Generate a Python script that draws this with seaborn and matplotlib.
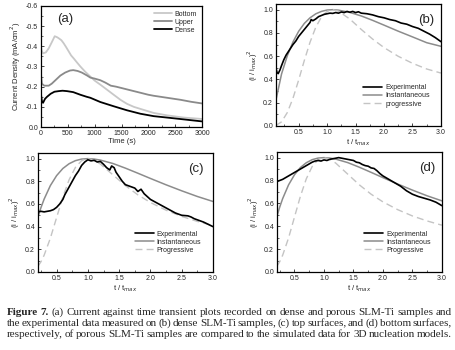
import matplotlib
matplotlib.use("Agg")
import matplotlib.pyplot as plt
import seaborn as sns
from matplotlib.ticker import AutoMinorLocator, MultipleLocator

sns.set_style("ticks")
plt.rcParams['font.family'] = ['Liberation Sans', 'DejaVu Sans']
plt.rcParams['xtick.direction'] = 'in'
plt.rcParams['ytick.direction'] = 'in'

# ---- (a) current density vs time ----
bottom_t = [0, 10, 37, 90, 143, 200, 255, 300, 329, 380, 422, 470, 515, 560, 609, 670, 733, 820,
            919, 1000, 1105, 1230, 1354, 1480, 1602, 1730, 1851, 2099, 2348, 2658, 3000]
bottom_j = [-0.40, -0.38, -0.365, -0.37, -0.39, -0.42, -0.45, -0.445, -0.44, -0.43, -0.415, -0.395,
            -0.375, -0.355, -0.34, -0.32, -0.30, -0.275, -0.25, -0.23, -0.21, -0.185, -0.16, -0.135,
            -0.115, -0.10, -0.09, -0.07, -0.058, -0.047, -0.04]
upper_t = [0, 15, 60, 143, 200, 280, 360, 450, 540, 600, 680, 760, 860, 919, 1000, 1105, 1200, 1300,
           1400, 1550, 1700, 1851, 2000, 2100, 2350, 2600, 2800, 3000]
upper_j = [-0.26, -0.215, -0.205, -0.205, -0.215, -0.235, -0.255, -0.27, -0.28, -0.282, -0.278, -0.27,
           -0.255, -0.245, -0.24, -0.232, -0.22, -0.205, -0.2, -0.19, -0.18, -0.17, -0.16, -0.155,
           -0.145, -0.135, -0.125, -0.117]
dense_t = [0, 15, 37, 75, 112, 180, 250, 329, 400, 484, 600, 733, 850, 919, 1105, 1354, 1602, 1851,
           2099, 2348, 2658, 3000]
dense_j = [-0.16, -0.13, -0.12, -0.14, -0.15, -0.165, -0.175, -0.178, -0.18, -0.178, -0.173, -0.16,
           -0.15, -0.145, -0.124, -0.103, -0.083, -0.066, -0.054, -0.047, -0.038, -0.028]

# ---- (b) dense SLM-Ti ----
b_model_x = [0.1, 0.2, 0.3, 0.4, 0.5, 0.6, 0.7, 0.8, 0.9, 1.0, 1.1, 1.2, 1.4, 1.6, 1.8, 2.0, 2.25,
             2.5, 2.75, 3.0]
b_inst = [0.22, 0.448, 0.603, 0.722, 0.814, 0.882, 0.930, 0.964, 0.985, 0.997, 1.0, 0.996, 0.976,
          0.946, 0.908, 0.867, 0.815, 0.766, 0.716, 0.685]
b_prog = [0.004, 0.036, 0.115, 0.238, 0.395, 0.564, 0.720, 0.848, 0.937, 0.985, 1.0, 0.987, 0.919,
          0.830, 0.747, 0.674, 0.599, 0.539, 0.490, 0.455]
b_exp_x = [0.1, 0.12, 0.14, 0.17, 0.2, 0.24, 0.28, 0.32, 0.36, 0.4, 0.45, 0.5, 0.55, 0.6, 0.65, 0.7,
           0.72, 0.75, 0.8, 0.85, 0.9, 0.95, 1.0, 1.05, 1.1, 1.15, 1.2, 1.25, 1.3, 1.35, 1.4, 1.45,
           1.5, 1.55, 1.6, 1.7, 1.8, 1.9, 2.0, 2.1, 2.2, 2.3, 2.4, 2.5, 2.6, 2.7, 2.8, 2.9, 3.0]
b_exp = [0.50, 0.46, 0.45, 0.48, 0.52, 0.57, 0.61, 0.64, 0.67, 0.70, 0.73, 0.77, 0.80, 0.83, 0.86,
         0.89, 0.915, 0.905, 0.92, 0.94, 0.95, 0.96, 0.965, 0.97, 0.968, 0.975, 0.97, 0.98, 0.975,
         0.985, 0.978, 0.985, 0.975, 0.982, 0.97, 0.965, 0.955, 0.94, 0.93, 0.915, 0.905, 0.885,
         0.875, 0.855, 0.84, 0.815, 0.79, 0.76, 0.725]

# ---- (c) top surfaces, (d) bottom surfaces ----
model_x = [0.2, 0.25, 0.3, 0.4, 0.5, 0.6, 0.7, 0.8, 0.9, 1.0, 1.1, 1.2, 1.4, 1.6, 1.8, 2.0, 2.25,
           2.5, 2.75, 3.0]
inst = [0.482, 0.568, 0.642, 0.762, 0.850, 0.913, 0.955, 0.982, 0.996, 1.0, 0.996, 0.987, 0.957,
        0.916, 0.871, 0.825, 0.769, 0.716, 0.666, 0.622]
prog = [0.049, 0.090, 0.147, 0.298, 0.480, 0.661, 0.814, 0.922, 0.982, 1.0, 0.986, 0.952, 0.857,
        0.762, 0.680, 0.613, 0.545, 0.490, 0.446, 0.409]
c_exp_x = [0.2, 0.25, 0.3, 0.35, 0.4, 0.45, 0.5, 0.55, 0.6, 0.63, 0.67, 0.7, 0.75, 0.8, 0.85, 0.9,
           0.95, 1.0, 1.05, 1.1, 1.15, 1.2, 1.25, 1.3, 1.35, 1.38, 1.42, 1.45, 1.5, 1.55, 1.6, 1.65,
           1.7, 1.75, 1.8, 1.85, 1.9, 2.0, 2.1, 2.2, 2.3, 2.4, 2.5, 2.6, 2.65, 2.7, 2.75, 2.85, 3.0]
c_exp = [0.53, 0.535, 0.53, 0.535, 0.54, 0.55, 0.57, 0.60, 0.64, 0.68, 0.72, 0.75, 0.80, 0.85, 0.89,
         0.94, 0.97, 0.99, 0.98, 0.985, 0.97, 0.975, 0.95, 0.92, 0.90, 0.935, 0.92, 0.88, 0.84,
         0.80, 0.77, 0.76, 0.75, 0.74, 0.71, 0.73, 0.69, 0.64, 0.61, 0.58, 0.55, 0.52, 0.50, 0.495,
         0.485, 0.47, 0.46, 0.44, 0.40]
d_exp_x = [0.2, 0.3, 0.4, 0.5, 0.6, 0.7, 0.8, 0.85, 0.9, 0.95, 1.0, 1.05, 1.1, 1.15, 1.2, 1.25, 1.3,
           1.35, 1.4, 1.45, 1.5, 1.55, 1.6, 1.65, 1.7, 1.75, 1.8, 1.85, 1.9, 1.95, 2.0, 2.1, 2.2, 2.3,
           2.4, 2.5, 2.6, 2.7, 2.8, 2.9, 3.0]
d_exp = [0.79, 0.81, 0.84, 0.87, 0.90, 0.93, 0.96, 0.97, 0.975, 0.97, 0.98, 0.975, 0.985, 0.99,
         0.995, 1.0, 0.995, 0.99, 0.985, 0.98, 0.975, 0.96, 0.955, 0.94, 0.93, 0.925, 0.91, 0.905,
         0.885, 0.86, 0.84, 0.81, 0.78, 0.75, 0.71, 0.68, 0.66, 0.645, 0.63, 0.61, 0.58]

fig = plt.figure(figsize=(4.56, 3.5), dpi=100)
ax_a = fig.add_axes([0.090, 0.637, 0.353, 0.346])
ax_b = fig.add_axes([0.605, 0.640, 0.362, 0.349])
ax_c = fig.add_axes([0.083, 0.223, 0.384, 0.340])
ax_d = fig.add_axes([0.607, 0.223, 0.362, 0.343])

tick_fs = 5
lab_fs = 5.5


def style(ax):
    for s in ax.spines.values():
        s.set_linewidth(0.9)
        s.set_color('black')
    ax.tick_params(which='major', length=2.5, width=0.6, labelsize=tick_fs, pad=2)
    ax.tick_params(which='minor', length=1.5, width=0.5)
    ax.xaxis.set_minor_locator(AutoMinorLocator(2))
    ax.yaxis.set_minor_locator(AutoMinorLocator(2))


# (a)
sns.lineplot(x=bottom_t, y=bottom_j, ax=ax_a, color='#c8c8c8', lw=1.3, sort=False, label='Bottom')
sns.lineplot(x=upper_t, y=upper_j, ax=ax_a, color='#8a8a8a', lw=1.3, sort=False, label='Upper')
sns.lineplot(x=dense_t, y=dense_j, ax=ax_a, color='black', lw=1.3, sort=False, label='Dense')
ax_a.set_xlim(0, 3000)
ax_a.set_ylim(0, -0.6)
ax_a.xaxis.set_major_locator(MultipleLocator(500))
ax_a.yaxis.set_major_locator(MultipleLocator(0.1))
ax_a.yaxis.set_major_formatter(matplotlib.ticker.FormatStrFormatter('%.1f'))
ax_a.set_xlabel('Time (s)', fontsize=lab_fs, labelpad=1)
ax_a.set_ylabel('Current Density (mA/cm$^2$)', fontsize=lab_fs, labelpad=2)
ax_a.legend(loc='upper right', fontsize=5, frameon=False, handlelength=2.6, labelspacing=0.15,
            borderaxespad=0.3, handletextpad=0.4)
ax_a.text(0.1, 0.87, '(a)', transform=ax_a.transAxes, fontsize=9.5)
style(ax_a)

ylab = '(i / i$_{max}$)$^2$'
xlab = 't / t$_{max}$'
panels = [
    (ax_b, b_model_x, b_inst, b_prog, b_exp_x, b_exp, 'progressive', '(b)', 0.1),
    (ax_c, model_x, inst, prog, c_exp_x, c_exp, 'Progressive', '(c)', 0.2),
    (ax_d, model_x, inst, prog, d_exp_x, d_exp, 'Progressive', '(d)', 0.2),
]
for ax, mx, mi, mp, ex, ey, plab, tag, x0 in panels:
    sns.lineplot(x=ex, y=ey, ax=ax, color='black', lw=1.2, sort=False, label='Experimental', zorder=3)
    sns.lineplot(x=mx, y=mi, ax=ax, color='#8c8c8c', lw=1.1, sort=False, label='Instantaneous')
    sns.lineplot(x=mx, y=mp, ax=ax, color='#c4c4c4', lw=1.0, sort=False, label=plab,
                 dashes=False, linestyle=(0, (5, 3)))
    ax.set_xlim(x0, 3.0)
    ax.set_ylim(0, 1.05)
    ax.xaxis.set_major_locator(MultipleLocator(0.5))
    ax.yaxis.set_major_locator(MultipleLocator(0.2))
    ax.xaxis.set_major_formatter(matplotlib.ticker.FormatStrFormatter('%.1f'))
    ax.yaxis.set_major_formatter(matplotlib.ticker.FormatStrFormatter('%.1f'))
    ax.set_xlabel(xlab, fontsize=lab_fs, labelpad=1)
    ax.set_ylabel(ylab, fontsize=lab_fs, labelpad=2)
    ax.legend(loc='lower right', bbox_to_anchor=(0.97, 0.1), fontsize=5, frameon=False,
              handlelength=2.8, labelspacing=0.15, handletextpad=0.4)
    ax.text(0.86, 0.84, tag, transform=ax.transAxes, fontsize=9.5)
    style(ax)

# caption, justified line by line
cap_lines = [
    [('Figure', True), ('7.', True)] + [(w, False) for w in
     '(a) Current against time transient plots recorded on dense and porous SLM-Ti samples and'.split()],
    [(w, False) for w in
     'the experimental data measured on (b) dense SLM-Ti samples, (c) top surfaces, and (d) bottom surfaces,'.split()],
    [(w, False) for w in
     'respectively, of porous SLM-Ti samples are compared to the simulated data for 3D nucleation models.'.split()],
]
cap_y = [315, 326, 337]
renderer = fig.canvas.get_renderer()
x_left, x_right = 7 / 456, 452 / 456
for words, ypx in zip(cap_lines, cap_y):
    texts, widths = [], []
    for w, bold in words:
        t = fig.text(0, 1 - ypx / 350, w, fontsize=8, family='Liberation Serif',
                     weight='bold' if bold else 'normal', va='baseline', ha='left')
        widths.append(t.get_window_extent(renderer).width / fig.bbox.width)
        texts.append(t)
    gap = ((x_right - x_left) - sum(widths)) / (len(words) - 1)
    x = x_left
    for t, wd in zip(texts, widths):
        t.set_x(x)
        x += wd + gap

fig.savefig('out.png', dpi=100)
